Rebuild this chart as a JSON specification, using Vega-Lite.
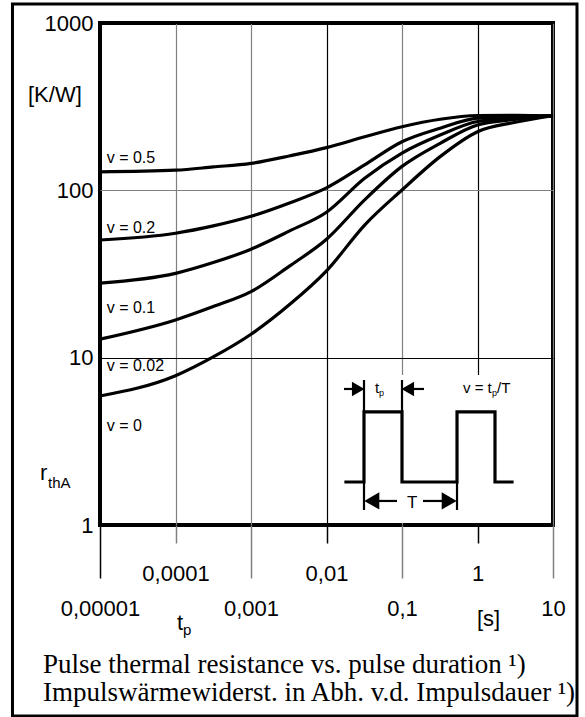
{
  "$schema": "https://vega.github.io/schema/vega-lite/v6.json",
  "width": 453,
  "height": 502,
  "autosize": {"type": "none"},
  "padding": {"left": 100, "top": 23, "right": 32, "bottom": 192},
  "background": "white",
  "config": {
    "view": {"stroke": "black", "strokeWidth": 4}
  },
  "datasets": {
    "curves": [
      {"v": "0.5", "x": 0.00001, "y": 129}, {"v": "0.5", "x": 0.0001, "y": 132}, {"v": "0.5", "x": 0.000316, "y": 138}, {"v": "0.5", "x": 0.001, "y": 145}, {"v": "0.5", "x": 0.0033, "y": 161}, {"v": "0.5", "x": 0.01, "y": 180}, {"v": "0.5", "x": 0.032, "y": 209}, {"v": "0.5", "x": 0.1, "y": 240}, {"v": "0.5", "x": 0.32, "y": 266}, {"v": "0.5", "x": 1, "y": 280}, {"v": "0.5", "x": 3.3, "y": 281}, {"v": "0.5", "x": 10, "y": 279},
      {"v": "0.2", "x": 0.00001, "y": 50.5}, {"v": "0.2", "x": 0.0001, "y": 55.4}, {"v": "0.2", "x": 0.000316, "y": 61.3}, {"v": "0.2", "x": 0.001, "y": 70}, {"v": "0.2", "x": 0.0033, "y": 84.4}, {"v": "0.2", "x": 0.01, "y": 103.5}, {"v": "0.2", "x": 0.032, "y": 142}, {"v": "0.2", "x": 0.1, "y": 195}, {"v": "0.2", "x": 0.32, "y": 235}, {"v": "0.2", "x": 1, "y": 270}, {"v": "0.2", "x": 3.3, "y": 276}, {"v": "0.2", "x": 10, "y": 279},
      {"v": "0.1", "x": 0.00001, "y": 27.9}, {"v": "0.1", "x": 0.0001, "y": 31.9}, {"v": "0.1", "x": 0.000316, "y": 37}, {"v": "0.1", "x": 0.001, "y": 44.5}, {"v": "0.1", "x": 0.0033, "y": 57.4}, {"v": "0.1", "x": 0.01, "y": 74}, {"v": "0.1", "x": 0.032, "y": 118}, {"v": "0.1", "x": 0.1, "y": 167}, {"v": "0.1", "x": 0.32, "y": 214}, {"v": "0.1", "x": 1, "y": 258}, {"v": "0.1", "x": 3.3, "y": 271}, {"v": "0.1", "x": 10, "y": 279},
      {"v": "0.02", "x": 0.00001, "y": 12.9}, {"v": "0.02", "x": 0.0001, "y": 16.8}, {"v": "0.02", "x": 0.000316, "y": 20.2}, {"v": "0.02", "x": 0.001, "y": 24.8}, {"v": "0.02", "x": 0.0033, "y": 35.5}, {"v": "0.02", "x": 0.01, "y": 51}, {"v": "0.02", "x": 0.032, "y": 87.7}, {"v": "0.02", "x": 0.1, "y": 139}, {"v": "0.02", "x": 0.32, "y": 191}, {"v": "0.02", "x": 1, "y": 246}, {"v": "0.02", "x": 3.3, "y": 266}, {"v": "0.02", "x": 10, "y": 279},
      {"v": "0", "x": 0.00001, "y": 5.9}, {"v": "0", "x": 0.0001, "y": 7.8}, {"v": "0", "x": 0.000316, "y": 10.1}, {"v": "0", "x": 0.001, "y": 13.8}, {"v": "0", "x": 0.0033, "y": 20.9}, {"v": "0", "x": 0.01, "y": 33}, {"v": "0", "x": 0.032, "y": 62}, {"v": "0", "x": 0.1, "y": 100.5}, {"v": "0", "x": 0.32, "y": 159}, {"v": "0", "x": 1, "y": 224}, {"v": "0", "x": 3.3, "y": 256}, {"v": "0", "x": 10, "y": 279}
    ],
    "boxes": [
      {"kind": "outer", "x": 6.93e-7, "x2": 20.79, "y": 1301, "y2": 0.0722},
      {"kind": "inset", "x": 0.01418, "x2": 9.409, "y": 7.883, "y2": 1.028}
    ],
    "segs": [
      {"kind": "wave", "seg": "w", "o": 1, "x": 0.01811, "y": 1.807},
      {"kind": "wave", "seg": "w", "o": 2, "x": 0.03138, "y": 1.807},
      {"kind": "wave", "seg": "w", "o": 3, "x": 0.03138, "y": 4.737},
      {"kind": "wave", "seg": "w", "o": 4, "x": 0.1, "y": 4.737},
      {"kind": "wave", "seg": "w", "o": 5, "x": 0.1, "y": 1.807},
      {"kind": "wave", "seg": "w", "o": 6, "x": 0.5354, "y": 1.807},
      {"kind": "wave", "seg": "w", "o": 7, "x": 0.5354, "y": 4.737},
      {"kind": "wave", "seg": "w", "o": 8, "x": 1.705, "y": 4.737},
      {"kind": "wave", "seg": "w", "o": 9, "x": 1.705, "y": 1.807},
      {"kind": "wave", "seg": "w", "o": 10, "x": 2.864, "y": 1.807},
      {"kind": "thin", "seg": "m1", "o": 1, "x": 0.03138, "y": 7.356},
      {"kind": "thin", "seg": "m1", "o": 2, "x": 0.03138, "y": 4.737},
      {"kind": "thin", "seg": "m2", "o": 1, "x": 0.1, "y": 7.356},
      {"kind": "thin", "seg": "m2", "o": 2, "x": 0.1, "y": 4.737},
      {"kind": "thin", "seg": "m3", "o": 1, "x": 0.03138, "y": 1.807},
      {"kind": "thin", "seg": "m3", "o": 2, "x": 0.03138, "y": 1.229},
      {"kind": "thin", "seg": "m4", "o": 1, "x": 0.5354, "y": 1.807},
      {"kind": "thin", "seg": "m4", "o": 2, "x": 0.5354, "y": 1.229},
      {"kind": "thin", "seg": "a1", "o": 1, "x": 0.01705, "y": 6.5},
      {"kind": "thin", "seg": "a1", "o": 2, "x": 0.02694, "y": 6.5},
      {"kind": "thin", "seg": "a2", "o": 1, "x": 0.1165, "y": 6.5},
      {"kind": "thin", "seg": "a2", "o": 2, "x": 0.1956, "y": 6.5},
      {"kind": "thin", "seg": "a3", "o": 1, "x": 0.04005, "y": 1.392},
      {"kind": "thin", "seg": "a3", "o": 2, "x": 0.0859, "y": 1.392},
      {"kind": "thin", "seg": "a4", "o": 1, "x": 0.1897, "y": 1.392},
      {"kind": "thin", "seg": "a4", "o": 2, "x": 0.4194, "y": 1.392}
    ],
    "heads": [
      {"grp": "T", "dir": "left", "x": 0.0398, "y": 1.392},
      {"grp": "T", "dir": "right", "x": 0.4217, "y": 1.392},
      {"grp": "tp", "dir": "right", "x": 0.0263, "y": 6.5},
      {"grp": "tp", "dir": "left", "x": 0.1193, "y": 6.5}
    ],
    "texts": [
      {"role": "axis", "label": "[K/W]", "x": 1.113e-6, "y": 335.7},
      {"role": "axis", "label": "r", "x": 1.604e-6, "y": 1.858},
      {"role": "sub", "label": "thA", "x": 2.048e-6, "y": 1.664},
      {"role": "axis", "label": "t", "x": 1.047e-4, "y": 0.2357},
      {"role": "sub", "label": "p", "x": 1.257e-4, "y": 0.2201},
      {"role": "axis", "label": "[s]", "x": 0.985, "y": 0.249},
      {"role": "leg", "label": "v = 0.5", "x": 1.227e-5, "y": 145.8},
      {"role": "leg", "label": "v = 0.2", "x": 1.227e-5, "y": 55.6},
      {"role": "leg", "label": "v = 0.1", "x": 1.227e-5, "y": 18.5},
      {"role": "leg", "label": "v = 0.02", "x": 1.227e-5, "y": 8.27},
      {"role": "leg", "label": "v = 0", "x": 1.227e-5, "y": 3.622},
      {"role": "ins", "label": "t", "x": 0.04385, "y": 6.152},
      {"role": "inssub", "label": "p", "x": 0.04955, "y": 5.902},
      {"role": "ins", "label": "v = t", "x": 0.6427, "y": 6.152},
      {"role": "inssub", "label": "p", "x": 1.556, "y": 5.902},
      {"role": "ins", "label": "/T", "x": 1.813, "y": 6.152},
      {"role": "T", "label": "T", "x": 0.1165, "y": 1.264},
      {"role": "cap", "label": "Pulse thermal resistance vs. pulse duration ¹)", "x": 1.757e-6, "y": 0.1304},
      {"role": "cap", "label": "Impulswärmewiderst. in Abh. v.d. Impulsdauer ¹)", "x": 1.757e-6, "y": 0.0887}
    ]
  },
  "encoding": {
    "x": {
      "field": "x",
      "type": "quantitative",
      "scale": {"type": "log", "domain": [0.00001, 10], "nice": false},
      "axis": {
        "values": [0.00001, 0.0001, 0.001, 0.01, 0.1, 1, 10],
        "title": null,
        "domain": false,
        "grid": true,
        "gridColor": {"condition": {"test": "datum.value < 0.00002 || abs(datum.value - 0.01) < 0.000001 || abs(datum.value - 1) < 0.000001", "value": "black"}, "value": "#808080"},
        "gridWidth": 1.2,
        "ticks": true,
        "tickSize": {"condition": {"test": "round(log(datum.value) / LN10) % 2 == 0", "value": 18}, "value": 53},
        "tickColor": {"condition": {"test": "datum.value < 0.00002 || abs(datum.value - 0.01) < 0.000001 || abs(datum.value - 1) < 0.000001", "value": "black"}, "value": "#808080"},
        "tickWidth": 1.5,
        "labelPadding": 20,
        "labelFont": "Liberation Sans",
        "labelFontSize": 22,
        "labelColor": "black",
        "labelFlush": false,
        "labelOverlap": false,
        "labelBound": false,
        "labelBaseline": "top",
        "labelAlign": "center",
        "labelExpr": "replace(format(datum.value, ''), '.', ',')"
      }
    },
    "y": {
      "field": "y",
      "type": "quantitative",
      "scale": {"type": "log", "domain": [1, 1000], "nice": false},
      "axis": {
        "values": [1, 10, 100, 1000],
        "title": null,
        "domain": false,
        "ticks": false,
        "grid": true,
        "gridColor": {"condition": {"test": "datum.value > 50 && datum.value < 500", "value": "#808080"}, "value": "black"},
        "gridWidth": 1.2,
        "labelPadding": 7,
        "labelFont": "Liberation Sans",
        "labelFontSize": 22,
        "labelColor": "black",
        "labelFlush": false,
        "labelOverlap": false,
        "labelBound": false,
        "format": "d"
      }
    }
  },
  "layer": [
    {
      "data": {"name": "boxes"},
      "transform": [{"filter": "datum.kind == 'inset'"}],
      "mark": {"type": "rect", "fill": "white", "strokeWidth": 0},
      "encoding": {"x2": {"field": "x2"}, "y2": {"field": "y2"}}
    },
    {
      "data": {"name": "boxes"},
      "transform": [{"filter": "datum.kind == 'outer'"}],
      "mark": {"type": "rect", "fill": null, "fillOpacity": 0, "stroke": "black", "strokeWidth": 3},
      "encoding": {"x2": {"field": "x2"}, "y2": {"field": "y2"}}
    },
    {
      "data": {"name": "curves"},
      "mark": {"type": "line", "color": "black", "strokeWidth": 3.2, "interpolate": "monotone"},
      "encoding": {"detail": {"field": "v", "type": "nominal"}}
    },
    {
      "data": {"name": "segs"},
      "transform": [{"filter": "datum.kind == 'wave'"}],
      "mark": {"type": "line", "color": "black", "strokeWidth": 3.2, "strokeJoin": "miter", "strokeCap": "square"},
      "encoding": {"detail": {"field": "seg", "type": "nominal"}, "order": {"field": "o", "type": "quantitative"}}
    },
    {
      "data": {"name": "segs"},
      "transform": [{"filter": "datum.kind == 'thin'"}],
      "mark": {"type": "line", "color": "black", "strokeWidth": 2.2},
      "encoding": {"detail": {"field": "seg", "type": "nominal"}, "order": {"field": "o", "type": "quantitative"}}
    },
    {
      "data": {"name": "heads"},
      "transform": [{"filter": "datum.grp == 'T'"}],
      "mark": {"type": "point", "filled": true, "color": "black", "size": 300, "opacity": 1},
      "encoding": {"shape": {"field": "dir", "type": "nominal", "scale": {"domain": ["left", "right"], "range": ["triangle-left", "triangle-right"]}, "legend": null}}
    },
    {
      "data": {"name": "heads"},
      "transform": [{"filter": "datum.grp == 'tp'"}],
      "mark": {"type": "point", "filled": true, "color": "black", "size": 210, "opacity": 1},
      "encoding": {"shape": {"field": "dir", "type": "nominal", "scale": {"domain": ["left", "right"], "range": ["triangle-left", "triangle-right"]}, "legend": null}}
    },
    {
      "data": {"name": "texts"},
      "transform": [{"filter": "datum.role == 'axis'"}],
      "mark": {"type": "text", "font": "Liberation Sans", "fontSize": 22, "align": "left", "baseline": "alphabetic", "color": "black"},
      "encoding": {"text": {"field": "label"}}
    },
    {
      "data": {"name": "texts"},
      "transform": [{"filter": "datum.role == 'sub'"}],
      "mark": {"type": "text", "font": "Liberation Sans", "fontSize": 15, "align": "left", "baseline": "alphabetic", "color": "black"},
      "encoding": {"text": {"field": "label"}}
    },
    {
      "data": {"name": "texts"},
      "transform": [{"filter": "datum.role == 'leg'"}],
      "mark": {"type": "text", "font": "Liberation Sans", "fontSize": 16, "align": "left", "baseline": "alphabetic", "color": "black"},
      "encoding": {"text": {"field": "label"}}
    },
    {
      "data": {"name": "texts"},
      "transform": [{"filter": "datum.role == 'ins'"}],
      "mark": {"type": "text", "font": "Liberation Sans", "fontSize": 15, "align": "left", "baseline": "alphabetic", "color": "black"},
      "encoding": {"text": {"field": "label"}}
    },
    {
      "data": {"name": "texts"},
      "transform": [{"filter": "datum.role == 'inssub'"}],
      "mark": {"type": "text", "font": "Liberation Sans", "fontSize": 9, "align": "left", "baseline": "alphabetic", "color": "black"},
      "encoding": {"text": {"field": "label"}}
    },
    {
      "data": {"name": "texts"},
      "transform": [{"filter": "datum.role == 'T'"}],
      "mark": {"type": "text", "font": "Liberation Sans", "fontSize": 17, "align": "left", "baseline": "alphabetic", "color": "black"},
      "encoding": {"text": {"field": "label"}}
    },
    {
      "data": {"name": "texts"},
      "transform": [{"filter": "datum.role == 'cap'"}],
      "mark": {"type": "text", "font": "Liberation Serif", "fontSize": 27, "align": "left", "baseline": "alphabetic", "color": "black"},
      "encoding": {"text": {"field": "label"}}
    }
  ]
}
